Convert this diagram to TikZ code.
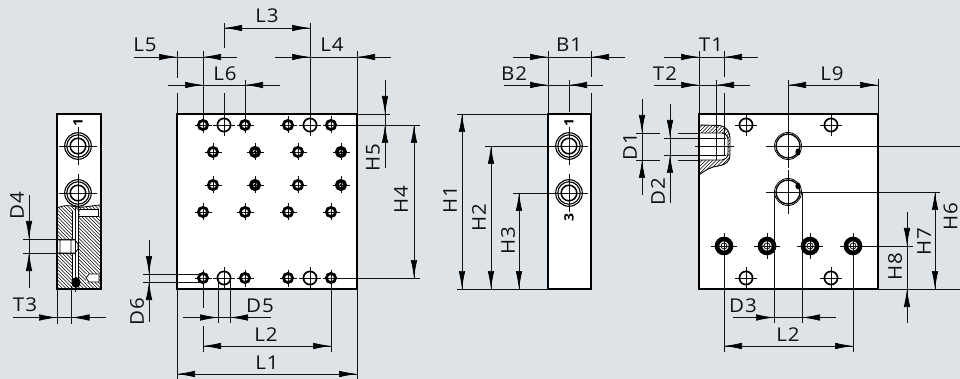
\documentclass[tikz,border=0pt]{standalone}
\usepackage{fontspec}
\setmainfont[LetterSpace=5,FakeStretch=1.08]{Open Sans}
\usetikzlibrary{arrows.meta}
\definecolor{bgc}{HTML}{DEE3E8}
\definecolor{ink}{HTML}{111111}
\tikzset{
 plate/.style={draw=black,line width=1.8pt,fill=white},
 thin line/.style={draw=ink,line width=.7pt},
 ext/.style={draw=ink,line width=.8pt},
 ctr/.style={draw=ink,line width=.55pt},
 tip/.style={draw=ink,line width=.7pt,-{Latex[length=18pt,width=6.5pt,black]}},
 lab/.style={font=\fontsize{19}{19}\selectfont,text=ink,inner sep=0pt},
 vlab/.style={lab,rotate=90},
 portmark/.style={font=\bfseries\fontsize{13}{13}\selectfont,inner sep=0pt,rotate=90},
 hatchline/.style={draw=black,line width=.65pt}
}
% horizontal dimension: y, line from, line to, left target, right target
\newcommand{\hdim}[5]{\draw[thin line] (#2,#1)--(#3,#1);
 \draw[tip] (#4,#1) ++(-18,0) -- (#4,#1); \draw[tip] (#5,#1) ++(18,0) -- (#5,#1);}
% arrows pointing outward to both limits
\newcommand{\hdimin}[3]{\draw[thin line] (#2,#1)--(#3,#1);
 \draw[tip] (#2,#1) ++(18,0) -- (#2,#1); \draw[tip] (#3,#1) ++(-18,0) -- (#3,#1);}
% vertical dimension, arrows coming from outside
\newcommand{\vdimo}[5]{\draw[thin line] (#1,#2)--(#1,#3);
 \draw[tip] (#1,#4) ++(0,-18) -- (#1,#4); \draw[tip] (#1,#5) ++(0,18) -- (#1,#5);}
% vertical dimension, arrows inside
\newcommand{\vdimi}[3]{\draw[thin line] (#1,#2)--(#1,#3);
 \draw[tip] (#1,#2) ++(0,18) -- (#1,#2); \draw[tip] (#1,#3) ++(0,-18) -- (#1,#3);}
\newcommand{\cross}[3]{\draw[ctr] (#1-#3,#2)--(#1+#3,#2) (#1,#2-#3)--(#1,#2+#3);}
\newcommand{\shole}[2]{\cross{#1}{#2}{8.5}\draw[black,line width=2.8pt] (#1,#2) circle (4.6);\cross{#1}{#2}{3.5}}
\newcommand{\dhole}[2]{\cross{#1}{#2}{8.5}\draw[black,line width=3.6pt] (#1,#2) circle (4.2);\fill (#1,#2) circle (1.5);}
\newcommand{\bhole}[2]{\cross{#1}{#2}{11}\draw[black,line width=1.7pt] (#1,#2) circle (6.6);}
\newcommand{\ghole}[2]{\cross{#1}{#2}{13}\draw[black,line width=4.6pt] (#1,#2) circle (7);\cross{#1}{#2}{5}\draw[ink,line width=.8pt] (#1,#2) circle (3);}
\newcommand{\port}[2]{\cross{#1}{#2}{19}\draw[black,line width=1.1pt] (#1,#2) circle (13.3);\draw[black,line width=1.1pt] (#1,#2) circle (11.2);\draw[black,line width=1.5pt] (#1,#2) circle (7.8);}
\begin{document}
\begin{tikzpicture}[x=1pt,y=-1pt]
\useasboundingbox (0,0) rectangle (960,379);
\fill[bgc] (0,0) rectangle (960,379);

% ---------- left side view
\draw[plate] (57,114) rectangle (101,289);
\node[portmark] (markA) at (78,122) {1};
\port{78}{146}\port{78}{193}
\begin{scope}
 \clip (57,208) .. controls (63,205) and (70,205) .. (76,207) .. controls (84,208) and (94,205) .. (101,205) -- (101,289) -- (57,289) -- cycle;
 \foreach \i in {0,3.5,...,280}{\draw[hatchline] (\i-40,200)--(\i+60,300);}
\end{scope}
\draw[black,line width=.8pt] (57,208) .. controls (63,205) and (70,205) .. (76,207) .. controls (84,208) and (94,205) .. (101,205);
\fill[white] (73,211) rectangle (78,284);
\draw[black,line width=1.1pt] (72.5,211)--(72.5,286) (78.5,211)--(78.5,286);
\draw[ctr] (75.5,205)--(75.5,292);
\fill[white] (58,240) rectangle (75,253);
\draw[black,line width=.8pt] (58,240)--(75,240)--(78,244)--(78,249)--(75,253)--(58,253) (60,240)--(60,253) (71,240)--(71,253);
\fill[white] (80,209) rectangle (100,216);
\draw[black,line width=.8pt] (79,209.5)--(98,209.5)--(98,216)--(79,216);
\fill[white] (86,274) rectangle (99,282);
\draw[black,line width=.8pt] (99,274)--(89,274)--(86,278)--(89,282)--(99,282)--cycle;
\fill[black] (76,282.5) ellipse (4.6 and 5.4);
\draw[plate,fill=none] (57,114) rectangle (101,289);

\draw[ext] (23,239)--(76,239) (23,253)--(76,253);
\vdimo{29}{195}{288}{239}{253}
\node[vlab] (D4) at (17,206) {D4};
\draw[ext] (57,289)--(57,324) (71.5,286)--(71.5,324);
\hdim{317.5}{13}{106}{57}{71.5}
\node[lab] (T3) at (25,305) {T3};

% ---------- front plate
\draw[plate] (177,114) rectangle (357,289);
\foreach \p in {203,245,288,331}{\shole{\p}{125}\shole{\p}{212}\shole{\p}{278}}
\foreach \p in {213,298}{\shole{\p}{152}\shole{\p}{185}}
\foreach \p in {255,341}{\dhole{\p}{152}\dhole{\p}{185}}
\foreach \p in {224,310}{\bhole{\p}{125}\bhole{\p}{278}}

% top dimensions
\draw[ext] (224,23)--(224,48) (224,93)--(224,125) (310,23)--(310,125);
\hdimin{28}{224}{310}
\node[lab] (L3) at (267,16) {L3};
\draw[ext] (177,51)--(177,78) (177,93)--(177,114) (203,51)--(203,125);
\hdim{57}{134}{237}{177}{203}
\node[lab] (L5) at (145,45) {L5};
\draw[ext] (357,51)--(357,114);
\hdim{57}{275}{391}{310}{357}
\node[lab] (L4) at (332,45) {L4};
\draw[ext] (245,80)--(245,125);
\hdim{85}{168}{280}{203}{245}
\node[lab] (L6) at (225,74) {L6};
% right dimensions
\draw[ext] (357,114)--(390,114) (331,125)--(420,125) (331,278)--(420,278);
\vdimo{385}{80}{168}{114}{125}
\node[vlab] (H5) at (373,158) {H5};
\vdimi{414}{125}{278}
\node[vlab] (H4) at (401,200) {H4};
% left
\draw[ext] (143,274)--(198,274) (143,282)--(203,282);
\vdimo{149}{240}{322}{274}{282}
\node[vlab] (D6) at (137,312) {D6};
% bottom
\draw[ext] (218,278)--(218,323) (230,278)--(230,323);
\hdim{317.5}{183}{271}{218}{230}
\node[lab] (D5) at (260,306) {D5};
\draw[ext] (203,282)--(203,308) (203,326)--(203,352) (331,282)--(331,352);
\hdimin{346}{203}{331}
\node[lab] (L2a) at (266,335) {L2};
\draw[ext] (177,289)--(177,379) (357,289)--(357,379);
\hdimin{374}{177}{357}
\node[lab] (L1) at (267,363) {L1};

% ---------- third view
\draw[plate] (548,114) rectangle (591,289);
\node[portmark] (markB) at (569,122) {1};
\node[portmark] (markC) at (569,217) {3};
\port{569}{146}\port{569}{193}
\draw[ext] (548,51)--(548,114) (591,51)--(591,77) (591,93)--(591,114) (569,80)--(569,112);
\hdim{57}{513}{625}{548}{591}
\node[lab] (B1) at (569,45) {B1};
\hdim{85}{504}{603}{548}{569}
\node[lab] (B2) at (514,74) {B2};
\draw[ext] (457,114)--(548,114) (457,289)--(548,289) (485,146)--(569,146) (513,193)--(569,193);
\vdimi{462}{114}{289}
\node[vlab] (H1) at (450,200) {H1};
\vdimi{491}{146}{289}
\node[vlab] (H2) at (479,218) {H2};
\vdimi{519}{193}{289}
\node[vlab] (H3) at (508,241) {H3};

% ---------- fourth view
\draw[plate] (699,114) rectangle (878,289);
\begin{scope}
 \clip (699,125) -- (720,125.5) .. controls (727,127) and (730,132) .. (730,138) -- (730,155) .. controls (730,161) and (726,165) .. (718,166) .. controls (710,167) and (704,171) .. (699,175) -- cycle;
 \foreach \i in {0,3.5,...,80}{\draw[hatchline] (690+\i,120)--(690+\i-60,180);}
\end{scope}
\draw[black,line width=.9pt] (699,125) -- (720,125.5) .. controls (727,127) and (730,132) .. (730,138) -- (730,155) .. controls (730,161) and (726,165) .. (718,166) .. controls (710,167) and (704,171) .. (699,175);
\fill[white] (700,133) -- (722,133) .. controls (726,134) and (728,136) .. (728,140) -- (728,153) .. controls (728,157) and (726,159) .. (722,160) -- (700,160) -- cycle;
\draw[black,line width=.9pt] (700,133) -- (722,133) .. controls (726,134) and (728,136) .. (728,140) -- (728,153) .. controls (728,157) and (726,159) .. (722,160) -- (700,160);
\draw[black,line width=.6pt] (700,138)--(726,138) (700,155)--(726,155) (724,138)--(724,155);
\draw[ctr] (695,146.5)--(734,146.5);
\draw[plate,fill=none] (699,114) rectangle (878,289);

\foreach \p in {746,831}{\bhole{\p}{125}\bhole{\p}{278}}
\foreach \p in {724,767,810,853}{\ghole{\p}{246}}
\foreach \q in {146,192}{\cross{788}{\q}{22}\draw[black,line width=.8pt] (788,\q) circle (13.5);\draw[black,line width=1.3pt] (788,\q) circle (12);}
\fill[black] (798,152) ellipse (2.6 and 3.6);
\fill[black] (798,186) ellipse (2.6 and 3.4);

\draw[ext] (699,51)--(699,114) (724,51)--(724,77) (724,93)--(724,155) (716,80)--(716,160);
\hdim{57}{664}{758}{699}{724}
\node[lab] (T1) at (711,45) {T1};
\hdim{85}{654}{750}{699}{716}
\node[lab] (T2) at (665,74) {T2};
\draw[ext] (636,133)--(660,133) (678,133)--(699,133) (636,160)--(660,160) (678,160)--(699,160) (664,138)--(699,138) (664,155)--(699,155);
\vdimo{642}{99}{195}{133}{160}
\node[vlab] (D1) at (630,147) {D1};
\vdimo{670}{104}{203}{138}{155}
\node[vlab] (D2) at (658,192) {D2};
\draw[ext] (788,80)--(788,124) (878,79)--(878,114);
\draw[thin line] (788,85)--(878,85);
\draw[tip] (788,85) ++(18,0) -- (788,85); \draw[tip] (878,85) ++(-18,0) -- (878,85);
\node[lab] (L9) at (832,74) {L9};
\draw[ext] (798,146)--(960,146) (798,192)--(940,192) (860,246)--(913,246) (878,289)--(960,289);
\vdimi{935}{192}{289}
\node[vlab] (H7) at (924,242) {H7};
\node[vlab] (H6) at (950.5,217) {H6};
\vdimo{907}{212}{323}{246}{289}
\node[vlab] (H8) at (895,267) {H8};
\draw[ext] (774,192)--(774,323) (802,192)--(802,323);
\hdim{317.5}{733}{836}{774}{802}
\node[lab] (D3) at (743,306) {D3};
\draw[ext] (724,255)--(724,352) (853,255)--(853,352);
\hdimin{346}{724}{853}
\node[lab] (L2b) at (788,335) {L2};
\end{tikzpicture}
\end{document}
